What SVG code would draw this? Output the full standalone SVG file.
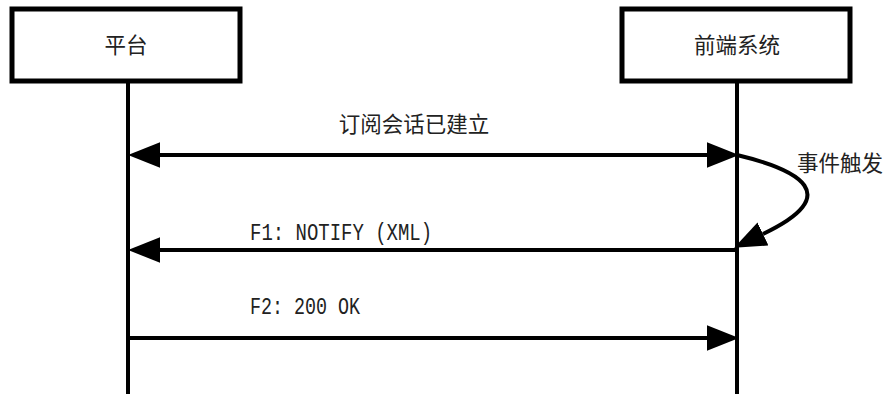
<svg xmlns="http://www.w3.org/2000/svg" width="886" height="394" viewBox="0 0 886 394">
<style>
.box{fill:#fff;stroke:#000;stroke-width:5}
.life{stroke:#000;stroke-width:4;fill:none}
.msg{stroke:#000;stroke-width:4;fill:none}
.cjk{font-family:"Noto Sans CJK SC","Noto Sans CJK JP",sans-serif;font-size:21.5px;fill:#222}
.mono{font-family:"Liberation Mono",monospace;font-size:24px;fill:#222}
</style>
<defs>
<marker id="ah" markerUnits="userSpaceOnUse" markerWidth="32" markerHeight="26" refX="0" refY="12" orient="auto-start-reverse" viewBox="0 0 30 24">
<path d="M0,0 L30,12 L0,24 z" fill="#000"/>
</marker>
</defs>
<g id="node-platform">
<rect class="box" x="12" y="9" width="228" height="72"/>
<text class="cjk" x="126" y="53" text-anchor="middle">平台</text>
</g>
<g id="node-frontend">
<rect class="box" x="622" y="9" width="228" height="72"/>
<text class="cjk" x="737" y="53" text-anchor="middle">前端系统</text>
</g>
<g id="lifelines">
<line class="life" x1="128" y1="83" x2="128" y2="394"/>
<line class="life" x1="737" y1="83" x2="737" y2="394"/>
</g>
<g id="connectors">
<line class="msg" x1="160" y1="155" x2="707" y2="155" marker-start="url(#ah)" marker-end="url(#ah)"/>
<path class="msg" d="M737,155 C800,170 845,195 763,234" marker-end="url(#ah)"/>
<line class="msg" x1="737" y1="250" x2="160" y2="250" marker-end="url(#ah)"/>
<line class="msg" x1="128" y1="338" x2="707" y2="338" marker-end="url(#ah)"/>
</g>
<g id="labels">
<text class="cjk" x="414" y="132" text-anchor="middle">订阅会话已建立</text>
<text class="cjk" x="840" y="171" text-anchor="middle">事件触发</text>
<text class="mono" x="250" y="240" textLength="182" lengthAdjust="spacingAndGlyphs">F1: NOTIFY (XML)</text>
<text class="mono" x="250" y="314" textLength="110" lengthAdjust="spacingAndGlyphs">F2: 200 OK</text>
</g>
</svg>
